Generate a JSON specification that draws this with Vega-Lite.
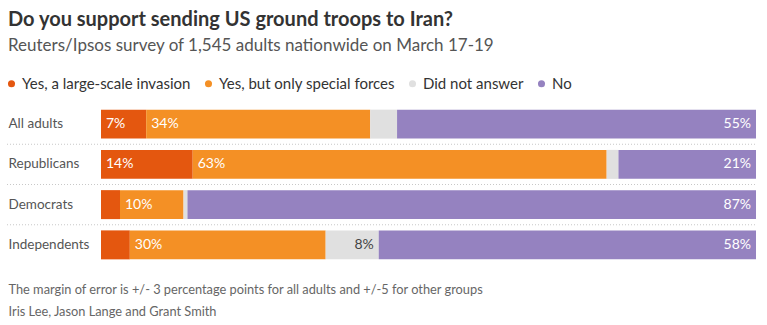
{
  "$schema": "https://vega.github.io/schema/vega-lite/v6.json",
  "width": 655,
  "height": 161,
  "autosize": "none",
  "padding": {"left": 101, "top": 104, "right": 11, "bottom": 60},
  "background": "white",
  "config": {"view": {"stroke": null}, "font": "Lato"},
  "title": {
    "text": "Do you support sending US ground troops to Iran?",
    "subtitle": "Reuters/Ipsos survey of 1,545 adults nationwide on March 17-19",
    "anchor": "start",
    "frame": "group",
    "dx": -93,
    "font": "Lato",
    "fontSize": 20,
    "fontWeight": "bold",
    "color": "#333333",
    "subtitleFont": "Lato",
    "subtitleFontSize": 17,
    "subtitleColor": "#555555",
    "subtitlePadding": 8,
    "offset": 22
  },
  "datasets": {
    "survey": [
      {"group": "All adults", "answer": "Yes, a large-scale invasion", "order": 1, "value": 6.9, "label": "7%"},
      {"group": "All adults", "answer": "Yes, but only special forces", "order": 2, "value": 34.2, "label": "34%"},
      {"group": "All adults", "answer": "Did not answer", "order": 3, "value": 4.1, "label": ""},
      {"group": "All adults", "answer": "No", "order": 4, "value": 54.8, "label": "55%"},
      {"group": "Republicans", "answer": "Yes, a large-scale invasion", "order": 1, "value": 14.0, "label": "14%"},
      {"group": "Republicans", "answer": "Yes, but only special forces", "order": 2, "value": 63.2, "label": "63%"},
      {"group": "Republicans", "answer": "Did not answer", "order": 3, "value": 1.8, "label": ""},
      {"group": "Republicans", "answer": "No", "order": 4, "value": 21.0, "label": "21%"},
      {"group": "Democrats", "answer": "Yes, a large-scale invasion", "order": 1, "value": 2.9, "label": ""},
      {"group": "Democrats", "answer": "Yes, but only special forces", "order": 2, "value": 9.7, "label": "10%"},
      {"group": "Democrats", "answer": "Did not answer", "order": 3, "value": 0.6, "label": ""},
      {"group": "Democrats", "answer": "No", "order": 4, "value": 86.8, "label": "87%"},
      {"group": "Independents", "answer": "Yes, a large-scale invasion", "order": 1, "value": 4.4, "label": ""},
      {"group": "Independents", "answer": "Yes, but only special forces", "order": 2, "value": 29.9, "label": "30%"},
      {"group": "Independents", "answer": "Did not answer", "order": 3, "value": 8.1, "label": "8%"},
      {"group": "Independents", "answer": "No", "order": 4, "value": 57.6, "label": "58%"}
    ],
    "separators": [
      {"group": "All adults"},
      {"group": "Republicans"},
      {"group": "Democrats"}
    ]
  },
  "layer": [
    {
      "data": {"name": "separators"},
      "mark": {"type": "rule", "color": "#c8c8c8", "strokeDash": [1, 2], "strokeWidth": 1, "xOffset": -94},
      "encoding": {
        "y": {"field": "group", "type": "nominal", "bandPosition": 1, "sort": ["All adults", "Republicans", "Democrats", "Independents"]},
        "x": {"datum": 0, "type": "quantitative"},
        "x2": {"datum": 100}
      }
    },
    {
      "data": {"name": "survey"},
      "mark": {"type": "bar", "height": {"band": 0.72}},
      "encoding": {
        "y": {
          "field": "group", "type": "nominal",
          "sort": ["All adults", "Republicans", "Democrats", "Independents"],
          "scale": {"paddingInner": 0, "paddingOuter": 0},
          "axis": {"title": null, "ticks": false, "domain": false, "labelAlign": "left", "labelPadding": 93, "labelFontSize": 13.5, "labelColor": "#555555", "labelFont": "Lato"}
        },
        "x": {
          "field": "value", "type": "quantitative", "stack": "zero",
          "scale": {"domain": [0, 100], "nice": false},
          "axis": {
            "labels": false, "ticks": false, "domain": false, "grid": false,
            "title": ["The margin of error is +/- 3 percentage points for all adults and +/-5 for other groups", "Iris Lee, Jason Lange and Grant Smith"],
            "titleAnchor": "start", "titleAlign": "left", "titleX": -93, "titleY": 28,
            "titleBaseline": "alphabetic", "titleLineHeight": 22,
            "titleFont": "Lato", "titleFontSize": 12.8, "titleFontWeight": "normal", "titleColor": "#666666"
          }
        },
        "order": {"field": "order", "type": "quantitative"},
        "color": {
          "field": "answer", "type": "nominal",
          "scale": {
            "domain": ["Yes, a large-scale invasion", "Yes, but only special forces", "Did not answer", "No"],
            "range": ["#e4570f", "#f49025", "#e0e0e0", "#9582c0"]
          },
          "legend": {
            "title": null, "orient": "none", "direction": "horizontal",
            "legendX": -97, "legendY": -28,
            "symbolType": "circle", "symbolSize": 50, "symbolStrokeWidth": 0,
            "labelFont": "Lato", "labelFontSize": 15, "labelColor": "#333333", "labelLimit": 0,
            "columnPadding": 10, "labelOffset": 3
          }
        }
      }
    },
    {
      "data": {"name": "survey"},
      "transform": [
        {"stack": "value", "groupby": ["group"], "sort": [{"field": "order"}], "as": ["v0", "v1"]},
        {"filter": "datum.order <= 2"}
      ],
      "mark": {"type": "text", "align": "left", "dx": 5, "fontSize": 14, "font": "Lato", "color": "white"},
      "encoding": {
        "y": {"field": "group", "type": "nominal", "sort": ["All adults", "Republicans", "Democrats", "Independents"]},
        "x": {"field": "v0", "type": "quantitative"},
        "text": {"field": "label"}
      }
    },
    {
      "data": {"name": "survey"},
      "transform": [
        {"stack": "value", "groupby": ["group"], "sort": [{"field": "order"}], "as": ["v0", "v1"]},
        {"filter": "datum.order >= 3"}
      ],
      "mark": {"type": "text", "align": "right", "dx": -5, "fontSize": 14, "font": "Lato"},
      "encoding": {
        "y": {"field": "group", "type": "nominal", "sort": ["All adults", "Republicans", "Democrats", "Independents"]},
        "x": {"field": "v1", "type": "quantitative"},
        "text": {"field": "label"},
        "color": {"condition": {"test": "datum.order === 3", "value": "#444444"}, "value": "white"}
      }
    }
  ]
}
